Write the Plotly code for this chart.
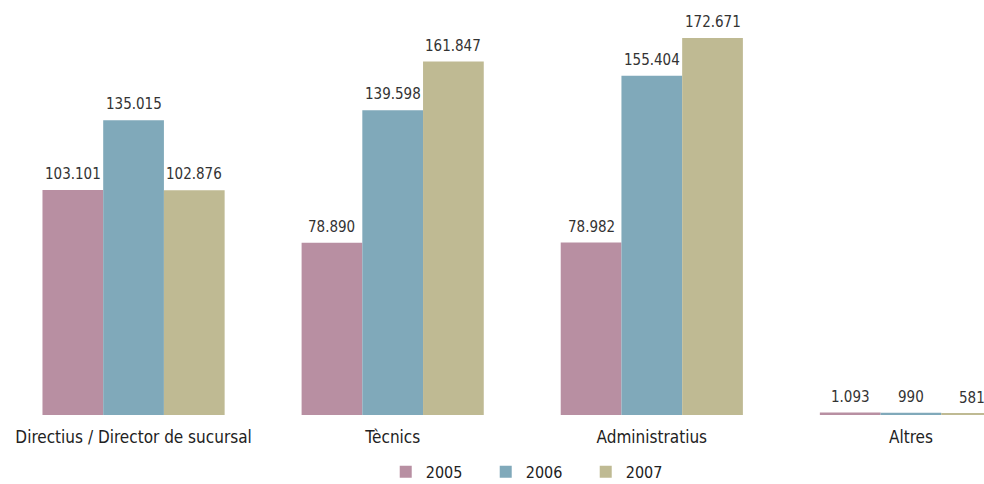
import plotly.graph_objects as go

categories = ["Directius / Director de sucursal", "Tècnics", "Administratius", "Altres"]
years = ["2005", "2006", "2007"]
values_2005 = [103101, 78890, 78982, 1093]
values_2006 = [135015, 139598, 155404, 990]
values_2007 = [102876, 161847, 172671, 581]
colors = ["#B88FA2", "#80A9BA", "#BFBA93"]

FONT = "DejaVu Sans Condensed, Liberation Sans Narrow, Arial Narrow, sans-serif"
BARGAP = 0.297
series = [values_2005, values_2006, values_2007]

fig = go.Figure()
for year, vals, col in zip(years, series, colors):
    fig.add_trace(go.Bar(
        x=list(range(len(categories))),
        y=vals,
        name=year,
        marker=dict(color=col, line=dict(width=0)),
        cliponaxis=True,
    ))

# value labels above each bar, placed at the bar's own x offset within the group
slot = (1 - BARGAP) / len(series)
for k, vals in enumerate(series):
    for i, v in enumerate(vals):
        fig.add_annotation(
            x=i + (k - (len(series) - 1) / 2) * slot,
            y=v,
            text=f"{v:,}".replace(",", "."),
            showarrow=False,
            yanchor="bottom",
            yshift=5,
            font=dict(family=FONT, size=15, color="#333333"),
        )

fig.update_layout(
    width=984,
    height=484,
    margin=dict(l=4, r=0, t=20, b=69),
    paper_bgcolor="white",
    plot_bgcolor="white",
    barmode="group",
    bargap=BARGAP,
    bargroupgap=0,
    font=dict(family=FONT, size=16, color="#333333"),
    xaxis=dict(
        tickmode="array",
        tickvals=list(range(len(categories))),
        ticktext=categories,
        range=[-0.5, 3.282],
        showgrid=False,
        zeroline=False,
        showline=False,
        ticks="outside",
        ticklen=7,
        tickcolor="rgba(0,0,0,0)",
        automargin=False,
        tickfont=dict(family=FONT, size=17, color="#222222"),
    ),
    yaxis=dict(
        range=[0, 180900],
        visible=False,
    ),
    legend=dict(
        orientation="h",
        x=0.392,
        xanchor="left",
        xref="container",
        y=0.025,
        yanchor="middle",
        yref="container",
        font=dict(family=FONT, size=16, color="#222222"),
        entrywidth=55,
        entrywidthmode="pixels",
        traceorder="normal",
    ),
    showlegend=True,
)

fig.write_html("out.html")
